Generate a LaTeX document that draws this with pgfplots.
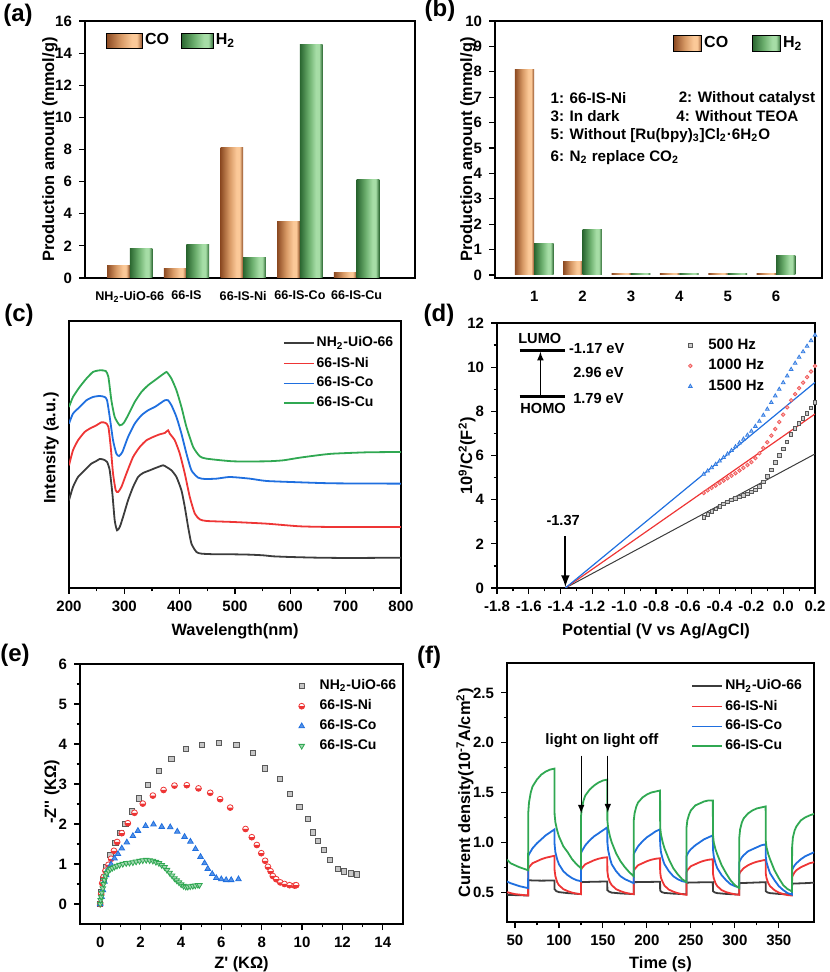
\documentclass[border=0pt]{standalone}
\usepackage{fontspec}
\setmainfont{Liberation Sans}
\newfontfamily\nomap{Liberation Sans}[Ligatures=TeXOff]
\usepackage{pgfplots}
\pgfplotsset{compat=1.18}
\usetikzlibrary{plotmarks}

\definecolor{cobrown}{HTML}{8C4A22}
\definecolor{comid}{HTML}{D89A66}
\definecolor{copeach}{HTML}{FBC998}
\definecolor{h2dark}{HTML}{2A6630}
\definecolor{h2mid}{HTML}{6DB06F}
\definecolor{h2light}{HTML}{A6DDA6}
\definecolor{cblack}{HTML}{3C3C3C}
\definecolor{cred}{HTML}{EE3535}
\definecolor{cblue}{HTML}{1F6FDF}
\definecolor{cgreen}{HTML}{30A852}

\pgfdeclarehorizontalshading{coshade}{100bp}{color(0bp)=(cobrown); color(25bp)=(cobrown); color(45bp)=(comid); color(60bp)=(copeach); color(67bp)=(copeach); color(75bp)=(cobrown); color(100bp)=(cobrown)}
\pgfdeclarehorizontalshading{hshade}{100bp}{color(0bp)=(h2dark); color(25bp)=(h2dark); color(45bp)=(h2mid); color(60bp)=(h2light); color(67bp)=(h2light); color(75bp)=(h2dark); color(100bp)=(h2dark)}

\pgfplotsset{
  panel/.style={scale only axis, anchor=south west,
    axis line style={line width=0.7pt},
    tick style={black, line width=0.6pt},
    tick align=outside, major tick length=3pt, minor tick length=1.7pt,
    xtick pos=bottom, ytick pos=left,
    /pgf/number format/assume math mode=true,
    /pgf/number format/1000 sep={},
    tick label style={font=\bfseries\fontsize{7.5}{8}\selectfont},
    label style={font=\bfseries\fontsize{8.2}{9}\selectfont},
    legend cell align=left,
    legend style={draw=none, fill=none, font=\bfseries\fontsize{7}{8}\selectfont, nodes={inner sep=1pt}, row sep=1.5pt},
  },
  cobar/.style={ybar, bar width=0.4, bar shift=-0.2, draw=none, shade, shading=coshade, forget plot},
  hbar/.style={ybar, bar width=0.4, bar shift=0.2, draw=none, shade, shading=hshade, forget plot},
  mkleg/.style={legend image code/.code={\path[draw=none, fill=none] (0pt,-2pt) (11pt,2pt); \draw[mark repeat=2,mark phase=2] plot coordinates {(0pt,0pt)(3pt,0pt)(6pt,0pt)};}},
  lnleg/.style={legend image code/.code={\draw (0pt,0pt) -- (15pt,0pt);}},
}

\begin{document}
\begin{tikzpicture}
\path[use as bounding box] (0,0) rectangle (414.5pt,486pt);
\begin{scope}[font=\bfseries\fontsize{12}{14}\selectfont]
\node at (9pt,478.5pt) {(a)};
\node at (220pt,481pt) {(b)};
\node at (9.5pt,328.5pt) {(c)};
\node at (219.5pt,328.5pt) {(d)};
\node at (7.5pt,158.5pt) {(e)};
\node at (214.5pt,157.5pt) {(f)};
\end{scope}

%% (a)
\begin{axis}[panel, at={(42.5pt,347pt)}, width=165pt, height=128.5pt,
  xmin=-0.79, xmax=5.03, ymin=0, ymax=16, ytick={0,2,...,16},
  xtick={0,1,2,3,4}, xticklabels={NH\textsubscript{2}-UiO-66,66-IS,66-IS-Ni,66-IS-Co,66-IS-Cu},
  x tick label style={font=\bfseries\fontsize{6.3}{7}\selectfont},
  major x tick style={draw=none},
  ylabel={Production amount (mmol/g)},
  ylabel style={at={(rel axis cs:-0.106,0.5)}, anchor=center},
  legend columns=2,
  legend style={at={(rel axis cs:0.045,0.975)}, anchor=north west, font=\bfseries\fontsize{8}{9}\selectfont, /tikz/every even column/.append style={column sep=5pt}},
]
\addplot[cobar] coordinates {(0,0.77)};
\addplot[cobar] coordinates {(1,0.58)};
\addplot[cobar] coordinates {(2,8.10)};
\addplot[cobar] coordinates {(3,3.52)};
\addplot[cobar] coordinates {(4,0.33)};
\addplot[hbar] coordinates {(0,1.82)};
\addplot[hbar] coordinates {(1,2.07)};
\addplot[hbar] coordinates {(2,1.28)};
\addplot[hbar] coordinates {(3,14.55)};
\addplot[hbar] coordinates {(4,6.11)};
\addlegendimage{legend image code/.code={\shade[shading=coshade] (0pt,-3.75pt) rectangle (18pt,3.75pt);}}
\addlegendentry{CO}
\addlegendimage{legend image code/.code={\shade[shading=hshade] (0pt,-3.75pt) rectangle (16pt,3.75pt);}}
\addlegendentry{H\textsubscript{2}}
\end{axis}

%% (b)
\begin{axis}[panel, at={(247.5pt,347pt)}, width=163.5pt, height=128.5pt,
  xmin=0.19, xmax=6.95, ymin=-0.12, ymax=10, ytick={0,1,...,10}, xtick={1,2,3,4,5,6},
  major x tick style={draw=none},
  ylabel={Production amount (mmol/g)},
  ylabel style={at={(rel axis cs:-0.083,0.5)}, anchor=center},
  legend columns=2,
  legend style={at={(rel axis cs:0.526,0.965)}, anchor=north west, font=\bfseries\fontsize{8}{9}\selectfont, /tikz/every even column/.append style={column sep=11pt}},
]
\addplot[cobar] coordinates {(1,8.10)};
\addplot[cobar] coordinates {(2,0.51)};
\addplot[cobar] coordinates {(3,0.06)};
\addplot[cobar] coordinates {(4,0.06)};
\addplot[cobar] coordinates {(5,0.06)};
\addplot[cobar] coordinates {(6,0.06)};
\addplot[hbar] coordinates {(1,1.24)};
\addplot[hbar] coordinates {(2,1.77)};
\addplot[hbar] coordinates {(3,0.06)};
\addplot[hbar] coordinates {(4,0.06)};
\addplot[hbar] coordinates {(5,0.06)};
\addplot[hbar] coordinates {(6,0.75)};
\addlegendimage{legend image code/.code={\shade[shading=coshade] (0pt,-4pt) rectangle (14pt,4pt);}}
\addlegendentry{CO}
\addlegendimage{legend image code/.code={\shade[shading=hshade] (0pt,-4pt) rectangle (14pt,4pt);}}
\addlegendentry{H\textsubscript{2}}
\begin{scope}[every node/.style={anchor=west, font=\bfseries\fontsize{7.6}{9}\selectfont, inner sep=0pt}]
\node at (axis cs:1.33,6.96) {1: 66-IS-Ni};
\node at (axis cs:3.98,6.96) {2: Without catalyst};
\node at (axis cs:1.33,6.25) {3: In dark};
\node at (axis cs:3.93,6.25) {4: Without TEOA};
\node at (axis cs:1.33,5.47) {5: Without [Ru(bpy)\textsubscript{3}]Cl\textsubscript{2}·6H\textsubscript{2}O};
\node at (axis cs:1.33,4.64) {6: N\textsubscript{2} replace CO\textsubscript{2}};
\end{scope}
\end{axis}

%% (c)
\begin{axis}[panel, at={(34.5pt,192pt)}, width=166pt, height=133.5pt,
  xmin=200, xmax=800, ymin=0, ymax=801, ytick=\empty, xtick={200,300,...,800}, minor x tick num=1,
  xlabel={Wavelength(nm)}, xlabel style={at={(rel axis cs:0.5,-0.161)}, anchor=center},
  ylabel={Intensity (a.u.)}, ylabel style={at={(rel axis cs:-0.054,0.524)}, anchor=center},
  legend style={at={(rel axis cs:0.625,0.965)}, anchor=north west},
  every axis plot/.append style={line width=0.9pt, smooth, tension=0.35, lnleg},
]
\addplot[cblack] coordinates {(200,263)(207.2,303)(216.3,333)(228.3,353)(240.4,373)(249.5,381)(255.5,387)(262.7,385)(268.8,378)(273.6,353)(278.4,283)(282.6,203)(286.8,173)(291.7,183)(297.7,213)(306.7,263)(315.8,303)(324.8,333)(333.9,345)(346,353)(358,361)(370.1,368)(376.1,363)(385.2,353)(394.2,333)(403.2,293)(409.3,243)(415.3,183)(421.3,133)(430.4,108)(439.4,103)(466.6,101)(496.7,101)(526.9,100)(551,98)(569.1,95)(599.3,93)(647.5,91)(707.8,90)(800,91)};
\addlegendentry{NH\textsubscript{2}-UiO-66}
\addplot[cred] coordinates {(200,368)(207.2,413)(216.3,443)(228.3,468)(237.4,478)(249.5,488)(258.5,497)(266.3,495)(271.2,483)(275.4,423)(279.6,343)(284.4,293)(288.7,288)(294.7,303)(303.7,343)(315.8,393)(327.9,423)(339.9,443)(352,453)(364,461)(373.1,465)(379.1,473)(382.1,463)(391.2,443)(400.2,403)(409.3,343)(418.3,273)(427.4,223)(436.4,206)(448.5,201)(496.7,198)(557,193)(617.3,185)(677.7,183)(800,183)};
\addlegendentry{66-IS-Ni}
\addplot[cblue] coordinates {(200,493)(207.2,523)(219.3,543)(231.4,563)(243.4,573)(255.5,576)(264.5,573)(268.8,563)(273.6,513)(279.6,443)(285.6,403)(290.5,396)(296.5,408)(306.7,453)(318.8,493)(330.9,518)(342.9,533)(355,543)(364,553)(373.1,563)(379.1,563)(385.2,548)(394.2,513)(403.2,463)(412.3,403)(421.3,353)(433.4,331)(445.5,327)(466.6,328)(490.7,333)(526.9,328)(557,321)(617.3,317)(677.7,314)(800,313)};
\addlegendentry{66-IS-Co}
\addplot[cgreen] coordinates {(200,543)(207.2,573)(219.3,603)(231.4,628)(243.4,648)(255.5,653)(266.3,651)(271.2,633)(276.6,563)(282.6,513)(291.7,488)(298.9,495)(306.7,518)(318.8,558)(330.9,588)(342.9,608)(355,623)(367.1,638)(376.1,648)(379.1,643)(385.2,628)(394.2,593)(403.2,543)(412.3,483)(424.4,423)(436.4,395)(448.5,388)(496.7,380)(557,380)(587.2,383)(617.3,391)(653.5,399)(677.7,403)(738,407)(800,408)};
\addlegendentry{66-IS-Cu}
\end{axis}

%% (d)
\begin{axis}[panel, at={(248.5pt,192pt)}, width=159pt, height=132.5pt,
  xmin=-1.8, xmax=0.2, ymin=0, ymax=12,
  xtick={-1.8,-1.6,-1.4,-1.2,-1.0,-0.8,-0.6,-0.4,-0.2,0,0.2}, ytick={0,2,...,12},
  minor x tick num=1, minor y tick num=1,
  xticklabel style={/pgf/number format/.cd, fixed, fixed zerofill, precision=1},
  xlabel={Potential (V vs Ag/AgCl)}, xlabel style={at={(rel axis cs:0.5,-0.162)}, anchor=center},
  ylabel={10\textsuperscript{9}/C\textsuperscript{2}(F\textsuperscript{2})}, ylabel style={at={(rel axis cs:-0.094,0.498)}, anchor=center},
  legend style={at={(rel axis cs:0.569,0.965)}, anchor=north west, font=\bfseries\fontsize{7.5}{8}\selectfont},
]
\addplot[only marks, mark=square*, mark size=0.85pt, mark options={draw=gray!70!black, fill=gray!40}, mkleg] coordinates {(-0.500,3.20)(-0.475,3.33)(-0.450,3.46)(-0.425,3.58)(-0.400,3.70)(-0.375,3.80)(-0.350,3.90)(-0.325,3.98)(-0.300,4.06)(-0.275,4.13)(-0.250,4.20)(-0.225,4.27)(-0.200,4.35)(-0.175,4.45)(-0.150,4.60)(-0.125,4.80)(-0.100,5.05)(-0.075,5.35)(-0.050,5.68)(-0.025,6.00)(0.000,6.30)(0.025,6.62)(0.050,6.95)(0.075,7.22)(0.100,7.46)(0.125,7.68)(0.150,7.90)(0.175,8.15)(0.200,8.40)};
\addlegendentry{500 Hz}
\addplot[only marks, mark=*, mark size=0.9pt, mark options={draw=cred!80, fill=cred!35}, mkleg] coordinates {(-0.500,4.30)(-0.475,4.42)(-0.450,4.53)(-0.425,4.64)(-0.400,4.75)(-0.375,4.86)(-0.350,4.97)(-0.325,5.08)(-0.300,5.20)(-0.275,5.32)(-0.250,5.44)(-0.225,5.57)(-0.200,5.70)(-0.175,5.88)(-0.150,6.10)(-0.125,6.34)(-0.100,6.60)(-0.075,6.90)(-0.050,7.20)(-0.025,7.52)(0.000,7.85)(0.025,8.18)(0.050,8.50)(0.075,8.78)(0.100,9.05)(0.125,9.30)(0.150,9.55)(0.175,9.80)(0.200,10.05)};
\addlegendentry{1000 Hz}
\addplot[only marks, mark=triangle*, mark size=1.05pt, mark options={draw=cblue!90, fill=cblue!35}, mkleg] coordinates {(-0.500,5.15)(-0.475,5.30)(-0.450,5.45)(-0.425,5.60)(-0.400,5.75)(-0.375,5.91)(-0.350,6.07)(-0.325,6.23)(-0.300,6.40)(-0.275,6.57)(-0.250,6.74)(-0.225,6.92)(-0.200,7.10)(-0.175,7.32)(-0.150,7.55)(-0.125,7.82)(-0.100,8.10)(-0.075,8.40)(-0.050,8.70)(-0.025,9.00)(0.000,9.30)(0.025,9.60)(0.050,9.90)(0.075,10.18)(0.100,10.45)(0.125,10.70)(0.150,10.95)(0.175,11.20)(0.200,11.45)};
\addlegendentry{1500 Hz}
\addplot[cblack, line width=0.5pt, forget plot] coordinates {(-1.37,0)(0.2,6.07)};
\addplot[cred, line width=0.6pt, forget plot] coordinates {(-1.37,0)(0.2,7.88)};
\addplot[cblue, line width=0.6pt, forget plot] coordinates {(-1.37,0)(0.2,9.31)};
\draw[-latex, line width=1pt] (axis cs:-1.37,2.34) -- (axis cs:-1.37,0.05);
\draw[line width=1.2pt] (axis cs:-1.657,10.76) -- (axis cs:-1.374,10.76);
\draw[line width=1.2pt] (axis cs:-1.657,8.68) -- (axis cs:-1.374,8.68);
\draw[-latex, line width=0.5pt] (axis cs:-1.527,8.68) -- (axis cs:-1.527,10.7);
\begin{scope}[every node/.style={font=\bfseries\fontsize{7.3}{8}\selectfont, inner sep=0pt}]
\node at (axis cs:-1.531,11.28) {LUMO};
\node at (axis cs:-1.51,8.15) {HOMO};
\node at (axis cs:-1.173,10.82) {-1.17 eV};
\node at (axis cs:-1.162,9.77) {2.96 eV};
\node at (axis cs:-1.162,8.57) {1.79 eV};
\node at (axis cs:-1.384,3.06) {-1.37};
\end{scope}
\end{axis}

%% (e)
\begin{axis}[panel, at={(40pt,24pt)}, width=161.5pt, height=130pt,
  xmin=-1, xmax=15, ymin=-0.5, ymax=6, xtick={0,2,...,14}, ytick={0,1,...,6},
  minor x tick num=1, minor y tick num=1,
  xlabel={{\nomap Z' (KΩ)}}, xlabel style={at={(rel axis cs:0.5,-0.154)}, anchor=center},
  ylabel={{\nomap -Z'' (KΩ)}}, ylabel style={at={(rel axis cs:-0.087,0.508)}, anchor=center},
  legend style={at={(rel axis cs:0.648,0.965)}, anchor=north west},
]
\addplot[only marks, mark=square*, mark size=1.35pt, mark options={draw=gray!70!black, fill=gray!45}, mkleg] coordinates {(0,0)(0.05,0.3)(0.15,0.62)(0.3,0.92)(0.5,1.22)(0.75,1.52)(1.0,1.77)(1.25,2.0)(1.57,2.31)(1.91,2.64)(2.36,2.98)(2.91,3.33)(3.52,3.63)(4.26,3.88)(5.05,3.98)(5.88,4.02)(6.74,3.97)(7.56,3.77)(8.17,3.39)(8.91,3.13)(9.41,2.75)(9.87,2.43)(10.29,2.13)(10.53,1.79)(10.78,1.58)(11.08,1.35)(11.39,1.10)(11.77,0.88)(12.07,0.82)(12.43,0.76)(12.73,0.74)};
\addlegendentry{NH\textsubscript{2}-UiO-66}
\addplot[only marks, mark=halfcircle*, mark size=1.45pt, mark options={draw=cred, fill=white, mark color=cred}, mkleg] coordinates {(0,0)(0.05,0.25)(0.1,0.52)(0.17,0.68)(0.26,0.83)(0.41,0.98)(0.54,1.13)(0.68,1.33)(0.84,1.55)(1.07,1.77)(1.37,2.02)(1.70,2.28)(2.11,2.51)(2.61,2.71)(3.14,2.85)(3.68,2.96)(4.29,2.97)(4.87,2.89)(5.45,2.78)(5.94,2.62)(6.44,2.41)(7.20,1.875)(7.51,1.67)(7.76,1.475)(7.98,1.27)(8.17,1.08)(8.31,0.93)(8.44,0.82)(8.55,0.70)(8.72,0.62)(8.92,0.54)(9.13,0.50)(9.38,0.47)(9.63,0.46)(9.71,0.47)};
\addlegendentry{66-IS-Ni}
\addplot[only marks, mark=triangle*, mark size=1.6pt, mark options={draw=cblue, fill=cblue!75}, mkleg] coordinates {(0,0)(0.07,0.18)(0.13,0.35)(0.21,0.56)(0.30,0.72)(0.38,0.85)(0.54,0.99)(0.71,1.14)(0.88,1.25)(1.07,1.39)(1.32,1.54)(1.62,1.70)(1.87,1.83)(2.25,1.95)(2.64,1.99)(3.05,1.93)(3.47,1.92)(3.82,1.81)(4.18,1.68)(4.47,1.56)(4.72,1.375)(4.97,1.18)(5.17,1.02)(5.33,0.88)(5.55,0.75)(5.75,0.65)(6.00,0.62)(6.24,0.60)(6.49,0.60)(6.85,0.62)};
\addlegendentry{66-IS-Co}
\addplot[only marks, mark=triangle*, mark size=1.6pt, mark options={rotate=180, draw=cgreen, fill=cgreen!45}, mkleg] coordinates {(0,0)(0.02,0.1)(0.05,0.18)(0.08,0.28)(0.13,0.39)(0.17,0.5)(0.21,0.6)(0.27,0.69)(0.33,0.77)(0.41,0.83)(0.5,0.875)(0.6,0.9)(0.71,0.93)(0.83,0.955)(0.96,0.975)(1.12,1.0)(1.29,1.02)(1.45,1.03)(1.62,1.04)(1.78,1.06)(1.95,1.075)(2.11,1.09)(2.28,1.10)(2.45,1.09)(2.61,1.08)(2.76,1.05)(2.91,1.02)(3.05,0.97)(3.19,0.92)(3.31,0.85)(3.44,0.78)(3.56,0.71)(3.68,0.64)(3.79,0.59)(3.90,0.54)(4.01,0.49)(4.13,0.45)(4.24,0.43)(4.34,0.43)(4.46,0.44)(4.59,0.45)(4.71,0.46)(4.84,0.475)(4.92,0.475)};
\addlegendentry{66-IS-Cu}
\end{axis}

%% (f)
\begin{axis}[panel, at={(253.5pt,25pt)}, width=153.5pt, height=129.5pt,
  xmin=41, xmax=390, ymin=0.2, ymax=2.8, xtick={50,100,...,350}, ytick={0.5,1,1.5,2,2.5},
  minor x tick num=1, minor y tick num=1,
  yticklabel style={/pgf/number format/.cd, fixed, fixed zerofill, precision=1},
  xlabel={Time (s)}, xlabel style={at={(rel axis cs:0.5,-0.162)}, anchor=center},
  ylabel={Current density(10\textsuperscript{-7}A/cm\textsuperscript{2})}, ylabel style={at={(rel axis cs:-0.137,0.498)}, anchor=center},
  legend style={at={(rel axis cs:0.58,0.96)}, anchor=north west},
  every axis plot/.append style={line width=0.9pt, lnleg},
]
\addplot[cblack] coordinates {(41,0.473)(50,0.47)(65,0.466)(65.1,0.62)(70,0.617)(80,0.615)(95,0.617)(95.1,0.53)(97,0.51)(100,0.50)(110,0.49)(125,0.48)(125.1,0.60)(135,0.603)(155,0.607)(155.1,0.52)(157,0.505)(160,0.495)(170,0.487)(185,0.48)(185.1,0.60)(200,0.602)(215,0.604)(215.1,0.515)(217,0.50)(220,0.492)(230,0.485)(245,0.478)(245.1,0.595)(260,0.598)(275,0.60)(275.1,0.51)(277,0.497)(280,0.49)(290,0.482)(305,0.475)(305.1,0.59)(320,0.595)(335,0.60)(335.1,0.51)(337,0.497)(340,0.49)(350,0.482)(365,0.475)(365.1,0.585)(380,0.59)(390,0.595)};
\addlegendentry{NH\textsubscript{2}-UiO-66}
\addplot[cred] coordinates {(41,0.50)(45,0.49)(50,0.48)(55,0.475)(60,0.47)(65,0.466)(65.1,0.73)(66,0.75)(68,0.77)(70,0.79)(75,0.81)(80,0.83)(85,0.845)(90,0.855)(95,0.865)(95.1,0.72)(96,0.66)(98,0.60)(100,0.57)(105,0.53)(110,0.51)(115,0.495)(120,0.485)(125,0.48)(125.1,0.72)(126,0.74)(128,0.76)(130,0.78)(135,0.80)(140,0.82)(145,0.835)(150,0.845)(155,0.85)(155.1,0.71)(156,0.65)(158,0.60)(160,0.57)(165,0.53)(170,0.51)(175,0.495)(180,0.485)(185,0.48)(185.1,0.71)(186,0.73)(188,0.75)(190,0.77)(195,0.79)(200,0.81)(205,0.825)(210,0.835)(215,0.84)(215.1,0.70)(216,0.645)(218,0.60)(220,0.565)(225,0.525)(230,0.505)(235,0.49)(240,0.48)(245,0.473)(245.1,0.70)(246,0.72)(248,0.74)(250,0.76)(255,0.78)(260,0.80)(265,0.815)(270,0.825)(275,0.83)(275.1,0.69)(276,0.64)(278,0.59)(280,0.56)(285,0.52)(290,0.50)(295,0.488)(300,0.478)(305,0.473)(305.1,0.68)(306,0.70)(308,0.72)(310,0.74)(315,0.77)(320,0.79)(325,0.805)(330,0.815)(335,0.825)(335.1,0.69)(336,0.64)(338,0.59)(340,0.56)(345,0.52)(350,0.495)(355,0.48)(360,0.47)(365,0.466)(365.1,0.65)(366,0.67)(368,0.70)(370,0.72)(375,0.75)(380,0.77)(385,0.79)(390,0.80)};
\addlegendentry{66-IS-Ni}
\addplot[cblue] coordinates {(41,0.607)(45,0.59)(50,0.575)(55,0.56)(60,0.55)(65,0.54)(65.1,0.86)(66,0.88)(68,0.91)(70,0.94)(75,0.99)(80,1.03)(85,1.07)(90,1.10)(95,1.13)(95.1,0.98)(96,0.90)(98,0.83)(100,0.78)(105,0.71)(110,0.67)(115,0.64)(120,0.62)(125,0.61)(125.1,0.89)(126,0.91)(128,0.94)(130,0.97)(135,1.02)(140,1.06)(145,1.09)(150,1.12)(155,1.15)(155.1,1.00)(156,0.92)(158,0.84)(160,0.78)(165,0.71)(170,0.66)(175,0.63)(180,0.61)(185,0.59)(185.1,0.88)(186,0.90)(188,0.93)(190,0.96)(195,1.01)(200,1.05)(205,1.08)(210,1.11)(215,1.13)(215.1,0.98)(216,0.90)(218,0.83)(220,0.78)(225,0.71)(230,0.66)(235,0.63)(240,0.61)(245,0.60)(245.1,0.86)(246,0.88)(248,0.91)(250,0.93)(255,0.97)(260,1.00)(265,1.03)(270,1.05)(275,1.07)(275.1,0.93)(276,0.86)(278,0.79)(280,0.74)(285,0.67)(290,0.62)(295,0.58)(300,0.56)(305,0.547)(305.1,0.80)(306,0.82)(308,0.85)(310,0.87)(315,0.91)(320,0.93)(325,0.95)(330,0.97)(335,0.98)(335.1,0.86)(336,0.80)(338,0.74)(340,0.69)(345,0.62)(350,0.56)(355,0.52)(360,0.49)(365,0.475)(365.1,0.72)(366,0.74)(368,0.77)(370,0.79)(375,0.83)(380,0.86)(385,0.88)(390,0.90)};
\addlegendentry{66-IS-Co}
\addplot[cgreen] coordinates {(41,0.825)(45,0.79)(50,0.77)(55,0.75)(60,0.735)(65,0.72)(65.1,1.29)(66,1.40)(68,1.50)(70,1.56)(75,1.63)(80,1.68)(85,1.71)(90,1.73)(95,1.74)(95.1,1.28)(96,1.20)(98,1.12)(100,1.06)(105,0.96)(110,0.90)(115,0.83)(120,0.78)(125,0.74)(125.1,1.26)(126,1.34)(128,1.42)(130,1.47)(135,1.53)(140,1.57)(145,1.60)(150,1.62)(155,1.63)(155.1,1.22)(156,1.14)(158,1.06)(160,1.00)(165,0.89)(170,0.81)(175,0.75)(180,0.70)(185,0.66)(185.1,1.22)(186,1.29)(188,1.36)(190,1.40)(195,1.45)(200,1.48)(205,1.50)(210,1.51)(215,1.52)(215.1,1.15)(216,1.08)(218,1.00)(220,0.94)(225,0.83)(230,0.74)(235,0.68)(240,0.63)(245,0.60)(245.1,1.15)(246,1.22)(248,1.28)(250,1.32)(255,1.37)(260,1.39)(265,1.41)(270,1.42)(275,1.42)(275.1,1.08)(276,1.00)(278,0.93)(280,0.88)(285,0.77)(290,0.69)(295,0.62)(300,0.57)(305,0.54)(305.1,1.05)(306,1.13)(308,1.20)(310,1.24)(315,1.29)(320,1.32)(325,1.34)(330,1.35)(335,1.36)(335.1,1.02)(336,0.95)(338,0.88)(340,0.83)(345,0.72)(350,0.64)(355,0.57)(360,0.53)(365,0.507)(365.1,0.95)(366,1.05)(368,1.12)(370,1.16)(375,1.22)(380,1.25)(385,1.27)(390,1.285)};
\addlegendentry{66-IS-Cu}
\draw[-latex, line width=0.5pt] (axis cs:125.3,1.87) -- (axis cs:125.3,1.29);
\draw[-latex, line width=0.5pt] (axis cs:155.6,1.87) -- (axis cs:155.6,1.30);
\node[font=\bfseries\fontsize{7.5}{8}\selectfont] at (axis cs:115.5,2.02) {light on};
\node[font=\bfseries\fontsize{7.5}{8}\selectfont] at (axis cs:181.7,2.02) {light off};
\end{axis}
\end{tikzpicture}
\end{document}
